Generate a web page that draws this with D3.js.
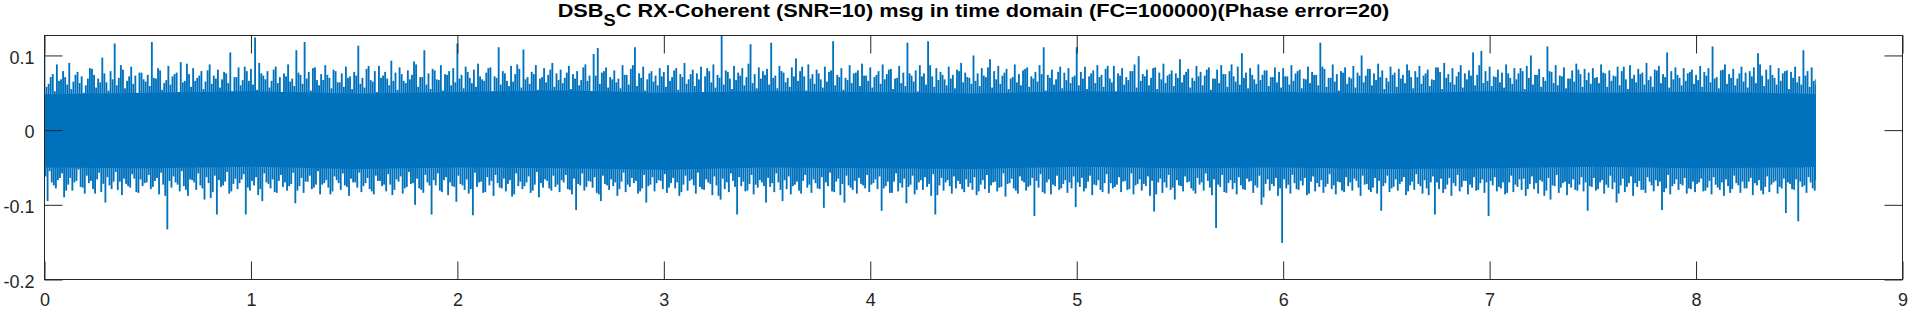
<!DOCTYPE html>
<html>
<head>
<meta charset="utf-8">
<script src="https://cdn.jsdelivr.net/npm/d3@7"></script>
<style>
html,body{margin:0;padding:0;background:#fff;}
svg{display:block;}
</style>
</head>
<body>
<svg id="chart" width="1911" height="310"></svg>
<script>
// ---- data ----
const titleMain = "DSB";
const titleSub = "S";
const titleRest = "C RX-Coherent (SNR=10) msg in time domain (FC=100000)(Phase error=20)";
const xTicks = [0,1,2,3,4,5,6,7,8,9];
const yTicks = [-0.2,-0.1,0,0.1];
const xDomain = [0, 9];
const yDomain = [-0.2, 0.1267];
const tStart = 0, tEnd = 8.58, sampleStep = 0.02;

// upper peak per 0.02 s column (t = 0 ... 8.58)
const upperPeaks = [
.102,.062,.075,.088,.068,.071,.09,.065,.078,.072,.06,.083,.074,.069,.097,.064,.079,.116,.07,.081,.066,.085,.073,.077,.068,
.074,.118,.069,.08,.063,.086,.072,.077,.091,.066,.075,.083,.07,.079,.065,.088,.073,.081,.068,.076,.104,.071,.084,.067,.079,
.082,.124,.09,.073,.079,.066,.085,.071,.076,.088,.069,.107,.074,.118,.078,.083,.067,.075,.087,.07,.081,.064,.076,.085,.072,
.078,.113,.07,.082,.067,.079,.086,.073,.069,.093,.077,.084,.066,.08,.074,.088,.071,.107,.076,.082,.068,.087,.075,.079,.083,
.116,.074,.085,.07,.081,.089,.068,.077,.084,.072,.111,.079,.066,.086,.075,.082,.108,.071,.078,.087,.069,.083,.074,.09,.076,
.081,.07,.086,.075,.079,.067,.088,.073,.102,.11,.077,.084,.071,.08,.069,.087,.074,.082,.111,.076,.085,.068,.079,.073,.083,
.078,.087,.071,.083,.075,.09,.068,.081,.076,.085,.072,.079,.088,.074,.126,.08,.069,.086,.077,.083,.071,.115,.075,.084,.079,
.082,.117,.073,.086,.077,.07,.084,.096,.079,.072,.088,.075,.081,.068,.085,.078,.119,.074,.083,.07,.087,.076,.08,.089,.073,
.084,.071,.079,.088,.075,.082,.069,.086,.077,.117,.073,.08,.087,.076,.119,.072,.083,.078,.068,.085,.074,.081,.09,.077,.07,
.1,.076,.083,.071,.095,.079,.086,.073,.082,.069,.088,.075,.08,.084,.072,.078,.087,.111,.074,.081,.068,.085,.077,.083,.071,
.111,.078,.085,.072,.08,.087,.074,.082,.069,.086,.076,.083,.071,.079,.088,.099,.075,.081,.07,.084,.077,.089,.073,.08,.076,
.095,.074,.082,.07,.086,.078,.073,.084,.069,.081,.087,.075,.079,.072,.085,.103,.077,.083,.068,.088,.074,.08,.071,.084,.078,
.083,.072,.087,.076,.081,.069,.085,.078,.074,.117,.082,.07,.088,.075,.079,.084,.071,.086,.077,.1,.073,.082,.076,.089,.08,
.07,.085,.077,.082,.074,.088,.071,.079,.086,.073,.081,.068,.084,.078,.09,.075,.083,.072,.087,.076,.08,.104,.074,.106,.079,
.085,.072,.081,.077,.088,.07,.083,.076,.079,.086,.1,.074,.082,.071,.112,.078,.087,.073,.084,.069,.08,.089,.075,.082,.077,
.083,.071,.088,.076,.08,.073,.085,.079,.068,.087,.074,.082,.077,.09,.072,.081,.086,.075,.104,.079,.084,.07,.083,.076,.081,
.074,.086,.078,.083,.112,.071,.08,.088,.075,.082,.069,.085,.077,.079,.084,.103,.073,.081,.087,.07,.083,.076,.08,.078,.085,
.072,.107,.079,.084,.068
];
// upper peak of the in-between columns (t + 0.01 s)
const upperPeaksMid = [
.058,.071,.052,.066,.079,.061,.055,.074,.063,.05,.069,.082,.057,.064,.076,.053,.068,.06,.087,.056,.072,.062,.049,.077,.065,
.059,.07,.083,.054,.067,.061,.075,.051,.064,.089,.058,.066,.073,.055,.08,.062,.069,.057,.078,.063,.052,.071,.06,.085,.066,
.061,.054,.076,.068,.057,.081,.063,.05,.072,.065,.059,.077,.062,.069,.053,.084,.06,.067,.074,.056,.079,.064,.058,.07,.055,
.073,.062,.057,.086,.065,.051,.07,.078,.06,.066,.054,.075,.063,.068,.092,.058,.071,.061,.055,.08,.067,.053,.074,.06,.064,
.069,.056,.078,.063,.058,.072,.066,.083,.052,.07,.061,.076,.059,.065,.088,.057,.068,.062,.075,.054,.071,.064,.081,.058,.067,
.063,.077,.055,.069,.06,.084,.066,.052,.073,.062,.079,.057,.068,.064,.056,.074,.061,.087,.059,.07,.053,.076,.065,.06,.072,
.058,.066,.08,.054,.071,.062,.075,.059,.068,.051,.083,.064,.057,.07,.061,.078,.055,.067,.073,.06,.089,.063,.056,.069,.074,
.061,.07,.056,.079,.064,.058,.072,.066,.085,.053,.069,.062,.076,.057,.065,.08,.06,.071,.054,.067,.063,.077,.059,.073,.066,
.057,.074,.062,.068,.081,.055,.07,.063,.059,.076,.065,.052,.072,.061,.087,.058,.067,.074,.06,.069,.056,.079,.064,.071,.062,
.066,.059,.073,.084,.057,.068,.062,.077,.055,.071,.064,.06,.082,.058,.069,.065,.075,.053,.07,.061,.078,.056,.067,.063,.073,
.06,.069,.055,.076,.063,.071,.058,.086,.064,.052,.073,.061,.067,.079,.057,.066,.072,.06,.083,.055,.068,.063,.075,.059,.07,
.064,.078,.057,.066,.072,.06,.081,.054,.069,.063,.075,.058,.088,.065,.061,.07,.056,.074,.062,.067,.08,.059,.071,.064,.057,
.072,.061,.066,.079,.056,.068,.063,.074,.06,.085,.058,.07,.065,.053,.077,.062,.069,.057,.073,.064,.082,.06,.067,.071,.055,
.065,.074,.058,.069,.063,.08,.056,.071,.062,.076,.059,.067,.084,.055,.07,.064,.061,.078,.057,.068,.073,.06,.087,.063,.066,
.059,.071,.064,.057,.076,.062,.068,.083,.055,.07,.061,.074,.058,.066,.079,.063,.06,.072,.056,.069,.065,.081,.058,.067,.062,
.07,.063,.077,.058,.066,.072,.06,.085,.055,.069,.064,.075,.061,.067,.058,.08,.063,.071,.057,.068,.074,.06,.066,.078,.062,
.067,.058,.073,.064,.069,.056,.081,.062,.07,.06,.076,.065,.057,.072,.063,.088,.059,.068,.074,.061,.066,.079,.055,.07,.064,
.061,.073,.058,.066,.06
];

// lower peak per 0.02 s column (t + 0.015 s)
const lowerPeaks = [
-.095,-.07,-.078,-.064,-.09,-.073,-.081,-.068,-.076,-.085,-.071,-.079,-.066,-.083,-.097,-.074,-.069,-.08,-.087,-.072,-.077,-.065,-.084,-.075,-.07,
-.079,-.068,-.086,-.073,-.133,-.077,-.07,-.082,-.075,-.088,-.067,-.08,-.074,-.093,-.071,-.083,-.113,-.076,-.069,-.085,-.072,-.079,-.066,-.113,-.081,
-.074,-.087,-.095,-.07,-.078,-.083,-.068,-.076,-.081,-.072,-.098,-.075,-.084,-.069,-.079,-.073,-.086,-.071,-.077,-.082,-.067,-.08,-.074,-.088,-.07,
-.077,-.083,-.071,-.079,-.086,-.068,-.075,-.082,-.073,-.08,-.069,-.085,-.076,-.072,-.1,-.078,-.084,-.07,-.113,-.074,-.081,-.067,-.087,-.075,-.096,
-.072,-.08,-.085,-.114,-.076,-.069,-.083,-.074,-.088,-.071,-.078,-.082,-.067,-.086,-.075,-.079,-.07,-.084,-.073,-.09,-.077,-.068,-.081,-.076,-.083,
-.07,-.079,-.086,-.107,-.074,-.081,-.068,-.077,-.084,-.095,-.072,-.08,-.075,-.088,-.069,-.083,-.076,-.071,-.085,-.078,-.097,-.073,-.082,-.067,-.079,
-.084,-.071,-.078,-.088,-.073,-.081,-.066,-.085,-.076,-.08,-.07,-.087,-.074,-.093,-.079,-.083,-.068,-.113,-.075,-.082,-.072,-.086,-.077,-.07,-.097,
-.076,-.083,-.07,-.095,-.079,-.086,-.073,-.081,-.068,-.077,-.084,-.071,-.079,-.104,-.075,-.082,-.069,-.087,-.097,-.074,-.08,-.085,-.072,-.078,-.083,
-.071,-.079,-.108,-.075,-.084,-.069,-.082,-.077,-.098,-.073,-.086,-.07,-.08,-.076,-.088,-.113,-.074,-.081,-.067,-.085,-.078,-.072,-.083,-.076,-.08,
-.087,-.073,-.079,-.084,-.07,-.082,-.076,-.089,-.071,-.078,-.085,-.068,-.081,-.074,-.115,-.077,-.083,-.07,-.086,-.075,-.08,-.072,-.084,-.078,-.103,
-.076,-.082,-.069,-.087,-.074,-.08,-.071,-.085,-.078,-.073,-.083,-.068,-.079,-.086,-.072,-.081,-.075,-.088,-.109,-.07,-.084,-.077,-.08,-.093,-.074,
-.082,-.07,-.078,-.085,-.073,-.081,-.068,-.087,-.131,-.076,-.083,-.071,-.079,-.086,-.074,-.08,-.069,-.084,-.077,-.1,-.072,-.081,-.075,-.088,-.151,
-.078,-.085,-.071,-.08,-.074,-.087,-.069,-.082,-.076,-.084,-.072,-.079,-.086,-.07,-.083,-.075,-.081,-.068,-.088,-.073,-.08,-.077,-.085,-.108,-.071,
-.083,-.076,-.081,-.069,-.087,-.074,-.08,-.072,-.085,-.078,-.07,-.113,-.079,-.084,-.073,-.088,-.075,-.082,-.068,-.086,-.077,-.081,-.071,-.084,-.115,
-.074,-.082,-.078,-.086,-.07,-.083,-.076,-.08,-.088,-.072,-.079,-.085,-.069,-.081,-.093,-.075,-.084,-.071,-.087,-.077,-.08,-.073,-.082,-.108,-.076,
-.081,-.07,-.085,-.077,-.079,-.097,-.074,-.083,-.071,-.088,-.076,-.08,-.084,-.069,-.082,-.075,-.107,-.078,-.086,-.072,-.08,-.074,-.085,-.079,-.083,
-.07,-.082,-.077,-.086,-.073,-.08,-.088,-.075,-.079,-.071,-.084,-.078,-.069,-.087,-.074,-.081,-.076,-.083,-.07,-.085,-.078,-.111,-.072,-.08,-.122,
-.076,-.084,-.07,-.081,-.065
];
// lower peak of the in-between columns (t + 0.005 s)
const lowerPeaksMid = [
-.062,-.055,-.074,-.067,-.058,-.081,-.064,-.07,-.053,-.077,-.061,-.068,-.085,-.057,-.072,-.063,-.079,-.056,-.069,-.065,-.075,-.059,-.083,-.066,-.071,
-.06,-.076,-.064,-.057,-.088,-.068,-.062,-.073,-.055,-.08,-.066,-.07,-.058,-.078,-.063,-.091,-.061,-.067,-.074,-.056,-.082,-.065,-.071,-.059,-.077,
-.068,-.063,-.079,-.058,-.072,-.066,-.084,-.06,-.07,-.075,-.057,-.081,-.064,-.069,-.061,-.077,-.055,-.073,-.067,-.086,-.062,-.071,-.058,-.076,-.065,
-.07,-.057,-.075,-.064,-.082,-.061,-.068,-.073,-.059,-.087,-.066,-.062,-.078,-.056,-.071,-.065,-.08,-.06,-.074,-.067,-.058,-.083,-.063,-.07,-.076,
-.061,-.074,-.066,-.079,-.057,-.07,-.084,-.063,-.068,-.06,-.077,-.065,-.072,-.089,-.058,-.069,-.075,-.062,-.081,-.056,-.071,-.066,-.078,-.061,-.073,
-.067,-.06,-.08,-.065,-.072,-.058,-.076,-.069,-.063,-.086,-.061,-.074,-.066,-.07,-.079,-.057,-.073,-.064,-.068,-.082,-.06,-.075,-.063,-.071,-.068,
-.059,-.077,-.064,-.07,-.083,-.061,-.068,-.074,-.057,-.079,-.066,-.072,-.062,-.088,-.065,-.07,-.058,-.076,-.063,-.069,-.081,-.06,-.073,-.067,-.075,
-.064,-.071,-.058,-.08,-.067,-.062,-.075,-.069,-.085,-.06,-.073,-.066,-.078,-.063,-.07,-.057,-.083,-.065,-.072,-.061,-.077,-.068,-.064,-.074,-.06,
-.073,-.066,-.062,-.078,-.069,-.084,-.058,-.071,-.065,-.076,-.061,-.08,-.067,-.063,-.072,-.059,-.087,-.064,-.07,-.075,-.062,-.068,-.079,-.066,-.071,
-.063,-.082,-.067,-.06,-.074,-.069,-.077,-.058,-.072,-.065,-.081,-.062,-.07,-.076,-.064,-.068,-.059,-.085,-.066,-.073,-.061,-.078,-.067,-.07,-.062,
-.07,-.064,-.078,-.061,-.073,-.067,-.083,-.059,-.071,-.076,-.063,-.069,-.08,-.058,-.074,-.066,-.072,-.062,-.068,-.086,-.065,-.07,-.06,-.077,-.067,
-.075,-.062,-.069,-.081,-.064,-.07,-.058,-.077,-.066,-.073,-.06,-.084,-.067,-.071,-.063,-.079,-.065,-.068,-.074,-.061,-.09,-.066,-.072,-.064,-.078,
-.066,-.073,-.06,-.079,-.068,-.064,-.085,-.062,-.071,-.067,-.076,-.059,-.074,-.069,-.081,-.063,-.07,-.065,-.077,-.061,-.072,-.083,-.064,-.068,-.075,
-.061,-.078,-.066,-.072,-.063,-.082,-.069,-.059,-.075,-.067,-.087,-.062,-.07,-.065,-.079,-.064,-.071,-.06,-.076,-.068,-.073,-.063,-.08,-.066,-.07,
-.068,-.063,-.076,-.07,-.084,-.061,-.073,-.066,-.065,-.079,-.062,-.071,-.067,-.088,-.064,-.074,-.06,-.077,-.069,-.072,-.066,-.081,-.063,-.07,-.075,
-.064,-.079,-.067,-.073,-.061,-.07,-.085,-.065,-.076,-.062,-.071,-.068,-.08,-.063,-.074,-.067,-.069,-.083,-.06,-.075,-.066,-.072,-.064,-.078,-.069,
-.072,-.065,-.081,-.068,-.063,-.077,-.07,-.066,-.084,-.061,-.074,-.069,-.078,-.064,-.071,-.067,-.086,-.062,-.073,-.068,-.076,-.065,-.07,-.079,-.066,
-.069,-.074,-.063,-.078,-.067
];

// solid core of the trace (every 0.5 s)
const coreTimes = [0,0.5,1,1.5,2,2.5,3,3.5,4,4.5,5,5.5,6,6.5,7,7.5,8,8.5,8.58];
const coreUpper = [.048,.05,.052,.049,.051,.053,.05,.052,.051,.049,.052,.05,.051,.049,.052,.05,.051,.049,.048];
const coreLower = [-.05,-.051,-.049,-.052,-.05,-.051,-.053,-.05,-.051,-.052,-.049,-.051,-.05,-.052,-.051,-.049,-.051,-.05,-.049];

// ---- drawing ----
const box = {left: 44.5, right: 1902.5, top: 35.5, bottom: 279.5};
const lineColor = "#0072BD";
const axisColor = "#262626";

const svg = d3.select("#chart");
const x = d3.scaleLinear().domain(xDomain).range([box.left, box.right]);
const y = d3.scaleLinear().domain(yDomain).range([box.bottom, box.top]);

svg.append("defs").append("clipPath").attr("id","clip")
  .append("rect").attr("x", box.left).attr("y", box.top)
  .attr("width", box.right-box.left).attr("height", box.bottom-box.top);

const plot = svg.append("g").attr("clip-path","url(#clip)");

// core area
const core = coreTimes.map((t,i)=>({t, hi: coreUpper[i], lo: coreLower[i]}));
plot.append("path").datum(core)
  .attr("fill", lineColor)
  .attr("d", d3.area().x(d=>x(d.t)).y0(d=>y(d.lo)).y1(d=>y(d.hi)));

// peak excursions drawn as thin vertical strokes from zero
const barW = 1.85;
const q = sampleStep/4;
const peaks = [];
upperPeaks.forEach((v,k)=>{
  const t = tStart + k*sampleStep;
  peaks.push({t, v});
  peaks.push({t: Math.min(t + q, tEnd), v: lowerPeaksMid[k]});
  peaks.push({t: Math.min(t + 2*q, tEnd), v: upperPeaksMid[k]});
  peaks.push({t: Math.min(t + 3*q, tEnd), v: lowerPeaks[k]});
});
const x0 = x(tStart), x1 = x(tEnd);
plot.selectAll("rect.peak").data(peaks).join("rect").attr("class","peak")
  .attr("x", d=>Math.max(x(d.t) - barW/2, x0))
  .attr("width", d=>Math.max(0, Math.min(x(d.t) + barW/2, x1) - Math.max(x(d.t) - barW/2, x0)))
  .attr("y", d=>Math.min(y(d.v), y(0)))
  .attr("height", d=>Math.abs(y(d.v) - y(0)))
  .attr("fill", lineColor);

// axes
const fontFam = "'Liberation Sans', Arial, Helvetica, sans-serif";
const tickLen = 18;
function styleAxis(g, showText){
  g.select(".domain").remove();
  g.selectAll(".tick line").attr("stroke", axisColor).attr("stroke-width",1);
  g.selectAll(".tick text").attr("fill", axisColor)
    .style("font-family", fontFam).style("font-size","18px");
  if(!showText) g.selectAll(".tick text").remove();
}
svg.append("g").attr("transform",`translate(0,${box.bottom})`)
  .call(d3.axisBottom(x).tickValues(xTicks).tickFormat(d=>String(d)).tickSize(-tickLen).tickPadding(14))
  .call(g=>styleAxis(g,true));
svg.append("g").attr("transform",`translate(0,${box.top})`)
  .call(d3.axisTop(x).tickValues(xTicks).tickSize(-tickLen))
  .call(g=>styleAxis(g,false));
svg.append("g").attr("transform",`translate(${box.left},0)`)
  .call(d3.axisLeft(y).tickValues(yTicks).tickFormat(d=>String(d)).tickSize(-tickLen).tickPadding(10))
  .call(g=>styleAxis(g,true))
  .call(g=>g.selectAll(".tick text").attr("dy","0.42em"));
svg.append("g").attr("transform",`translate(${box.right},0)`)
  .call(d3.axisRight(y).tickValues(yTicks).tickSize(-tickLen))
  .call(g=>styleAxis(g,false));

// box
svg.append("rect").attr("x",box.left).attr("y",box.top)
  .attr("width",box.right-box.left).attr("height",box.bottom-box.top)
  .attr("fill","none").attr("stroke",axisColor).attr("stroke-width",1);

// title
const cx = (box.left+box.right)/2;
const titleG = svg.append("g");
const title = titleG.append("text")
  .attr("x", cx).attr("y", 17.5)
  .attr("text-anchor","middle")
  .style("font-family", fontFam).style("font-weight","bold").style("font-size","19px")
  .attr("fill","#000");
title.append("tspan").text(titleMain);
title.append("tspan").attr("dy", 8.5).style("font-size","16px").text(titleSub);
title.append("tspan").attr("dy", -8.5).text(titleRest);
const targetTitleWidth = 832;
const tw = title.node().getBBox().width;
titleG.attr("transform", `translate(${cx},0) scale(${targetTitleWidth/tw},1) translate(${-cx},0)`);
</script>
</body>
</html>
